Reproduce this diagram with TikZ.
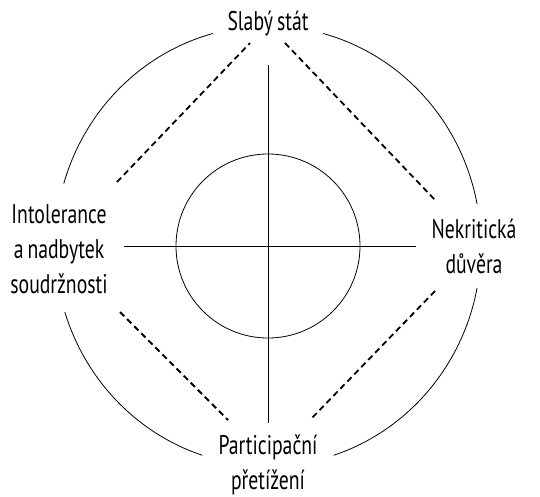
\documentclass[tikz,border=0pt]{standalone}
\usepackage{fontspec}
\newfontfamily\polefont{PT Sans}[FakeStretch=0.73, WordSpace=0.75]
\usepackage{tikz}
\usetikzlibrary{positioning, calc}
\tikzstyle{pole} = [font=\polefont\fontsize{27}{35}\selectfont, align=center, inner sep=0pt]
\tikzstyle{ring} = [line width=0.8pt]
\tikzstyle{dashline} = [line width=1.8pt, dash pattern=on 6pt off 4pt]
\tikzstyle{axis} = [line width=0.8pt]

\begin{document}
\begin{tikzpicture}[x=1pt, y=1pt]
    \useasboundingbox (0,0) rectangle (540,496);
    \coordinate (c) at (268,250);

    % Popisky
    \node (slaby) [pole] at (268,472) {Slabý stát};
    \node (intol) [pole] at (59,247) {Intolerance\\a nadbytek\\soudržnosti};
    \node (nekrit) [pole] at (474,250) {Nekritická\\důvěra};
    \node (partic) [pole] at (268,31) {Participační\\přetížení};

    % Vnejsi kruh
    \draw [ring] ([shift={(11:213 and 220)}]c) arc[start angle=11, end angle=75, x radius=213, y radius=220];
    \draw [ring] ([shift={(105:213 and 220)}]c) arc[start angle=105, end angle=163.5, x radius=213, y radius=220];
    \draw [ring] ([shift={(197.5:213 and 220)}]c) arc[start angle=197.5, end angle=252, x radius=213, y radius=220];
    \draw [ring] ([shift={(288:213 and 220)}]c) arc[start angle=288, end angle=349, x radius=213, y radius=220];

    % Vnitrni kruh a osy
    \draw [ring] (c) circle[radius=92];
    \coordinate (top) at (268,431);
    \coordinate (bot) at (268,73);
    \coordinate (lft) at (124,250);
    \coordinate (rgt) at (416,250);
    \draw [axis] (top) -- (bot);
    \draw [axis] (lft) -- (rgt);

    % Carkovane spojnice
    \coordinate (tl1) at (117,314);
    \coordinate (tl2) at (250,453);
    \coordinate (tr1) at (285,453);
    \coordinate (tr2) at (436,295);
    \coordinate (bl1) at (120,184);
    \coordinate (bl2) at (228,76);
    \coordinate (br1) at (435,205);
    \coordinate (br2) at (311,77);
    \draw [dashline] (tl1) -- (tl2);
    \draw [dashline] (tr1) -- (tr2);
    \draw [dashline] (bl1) -- (bl2);
    \draw [dashline] (br1) -- (br2);
\end{tikzpicture}
\end{document}
